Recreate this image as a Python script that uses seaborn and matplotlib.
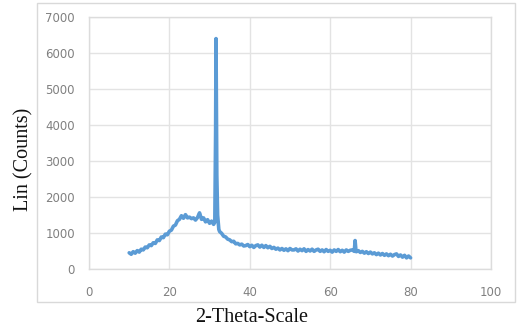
"""
XRD pattern: Lin (Counts) vs 2-Theta-Scale
"""

import matplotlib
matplotlib.use("Agg")
import matplotlib.pyplot as plt
from matplotlib.patches import Rectangle
import seaborn as sns
import pandas as pd

# 2-theta angles (degrees)
two_theta = [
    10.0, 10.5, 11.0, 11.5, 12.0, 12.5, 13.0, 13.5, 14.0, 14.5,
    15.0, 15.5, 16.0, 16.5, 17.0, 17.5, 18.0, 18.5, 19.0, 19.5,
    20.0, 20.5, 21.0, 21.5, 22.0, 22.5, 23.0, 23.5, 24.0, 24.5,
    25.0, 25.5, 26.0, 26.5, 27.0, 27.5, 28.0, 28.5, 29.0, 29.5,
    30.0, 30.5, 31.0, 31.3, 31.5, 31.6, 31.8, 32.0, 32.3, 32.5,
    33.0, 33.5, 34.0, 34.5, 35.0, 35.5, 36.0, 36.5, 37.0, 37.5,
    38.0, 38.5, 39.0, 39.5, 40.0, 40.5, 41.0, 41.5, 42.0, 42.5,
    43.0, 43.5, 44.0, 44.5, 45.0, 45.5, 46.0, 46.5, 47.0, 47.5,
    48.0, 48.5, 49.0, 49.5, 50.0, 50.5, 51.0, 51.5, 52.0, 52.5,
    53.0, 53.5, 54.0, 54.5, 55.0, 55.5, 56.0, 56.5, 57.0, 57.5,
    58.0, 58.5, 59.0, 59.5, 60.0, 60.5, 61.0, 61.5, 62.0, 62.5,
    63.0, 63.5, 64.0, 64.5, 65.0, 65.5, 66.0, 66.2, 66.4, 66.5,
    67.0, 67.5, 68.0, 68.5, 69.0, 69.5, 70.0, 70.5, 71.0, 71.5,
    72.0, 72.5, 73.0, 73.5, 74.0, 74.5, 75.0, 75.5, 76.0, 76.5,
    77.0, 77.5, 78.0, 78.5, 79.0, 79.5, 80.0,
]

# intensity (counts)
counts = [
    450, 410, 480, 440, 510, 470, 550, 530, 610, 590,
    670, 650, 730, 710, 810, 790, 890, 870, 970, 950,
    1050, 1080, 1190, 1220, 1340, 1380, 1480, 1410, 1510, 1420,
    1440, 1400, 1420, 1360, 1430, 1560, 1380, 1420, 1310, 1370,
    1270, 1330, 1240, 1300, 3800, 6400, 2600, 1500, 1100, 1040,
    990, 910, 890, 830, 810, 760, 770, 700, 710, 670,
    690, 640, 650, 680, 620, 660, 600, 650, 670, 610,
    660, 600, 650, 590, 630, 570, 600, 550, 580, 530,
    570, 520, 560, 510, 570, 530, 530, 560, 500, 550,
    510, 560, 490, 540, 500, 550, 490, 530, 550, 490,
    530, 480, 540, 490, 520, 470, 530, 490, 540, 480,
    520, 470, 530, 490, 520, 530, 490, 790, 530, 480,
    510, 460, 490, 440, 480, 430, 470, 420, 450, 400,
    440, 390, 430, 380, 420, 370, 410, 360, 400, 420,
    350, 390, 330, 380, 310, 360, 310,
]

x_ticks = [0, 20, 40, 60, 80, 100]
y_ticks = [0, 1000, 2000, 3000, 4000, 5000, 6000, 7000]

df = pd.DataFrame({"two_theta": two_theta, "counts": counts})

sns.set_theme(style="whitegrid")
plt.rcParams["font.family"] = ["DejaVu Sans"]

fig = plt.figure(figsize=(5.18, 3.31), dpi=100)
ax = fig.add_axes([0.1718, 0.1873, 0.776, 0.7613])

# light outer chart frame
fig.patches.append(Rectangle((0.0714, 0.0876), 0.922, 0.903, transform=fig.transFigure,
                             fill=False, edgecolor="#d9d9d9", linewidth=1.0))

sns.lineplot(data=df, x="two_theta", y="counts", ax=ax, color="#5b9bd5",
             linewidth=2.6, sort=False)

ax.set_xlim(0, 100)
ax.set_ylim(0, 7000)
ax.set_xticks(x_ticks)
ax.set_yticks(y_ticks)
ax.grid(True, color="#e3e3e3", linewidth=1.0)
for side in ["left", "right", "top", "bottom"]:
    ax.spines[side].set_visible(True)
    ax.spines[side].set_color("#dcdcdc")
    ax.spines[side].set_linewidth(1.0)
ax.tick_params(axis="both", length=0, labelsize=8.5, labelcolor="#808080")
ax.tick_params(axis="y", pad=10)
ax.tick_params(axis="x", pad=12)
ax.set_xlabel("")
ax.set_ylabel("")

fig.text(0.485, 0.04, "2-Theta-Scale", ha="center", va="center",
         family="Liberation Serif", fontsize=14.5, color="#111111")
fig.text(0.047, 0.52, "Lin (Counts)", ha="center", va="center", rotation=90,
         family="Liberation Serif", fontsize=14.5, color="#111111")

fig.savefig("out.png", dpi=100)
